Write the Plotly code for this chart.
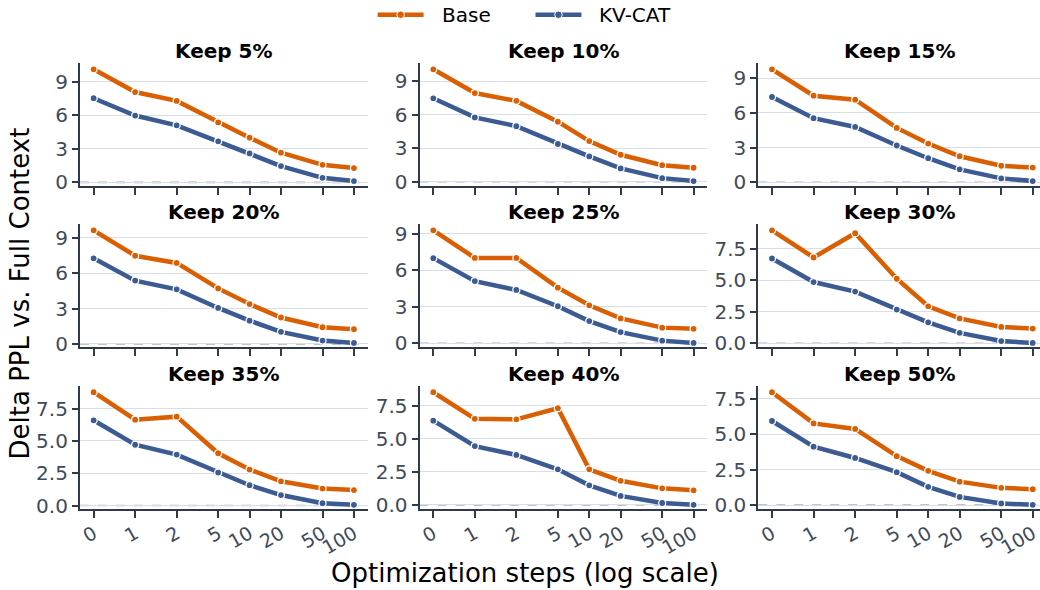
import math
import plotly.graph_objects as go

# ---------------- data ----------------
steps = [0, 1, 2, 5, 10, 20, 50, 100]
step_labels = ["0", "1", "2", "5", "10", "20", "50", "100"]
keep_titles = ["Keep 5%", "Keep 10%", "Keep 15%", "Keep 20%", "Keep 25%",
               "Keep 30%", "Keep 35%", "Keep 40%", "Keep 50%"]
series_names = ["Base", "KV-CAT"]

base_k05 = [10.10, 8.07, 7.28, 5.36, 3.99, 2.65, 1.57, 1.28]
kv_k05 = [7.52, 5.97, 5.10, 3.67, 2.59, 1.46, 0.41, 0.12]
base_k10 = [10.05, 7.93, 7.23, 5.37, 3.63, 2.41, 1.48, 1.25]
kv_k10 = [7.46, 5.75, 4.97, 3.37, 2.26, 1.19, 0.32, 0.06]
base_k15 = [9.76, 7.48, 7.14, 4.70, 3.35, 2.25, 1.43, 1.27]
kv_k15 = [7.37, 5.54, 4.78, 3.18, 2.08, 1.12, 0.34, 0.11]
base_k20 = [9.64, 7.48, 6.87, 4.71, 3.38, 2.24, 1.41, 1.25]
kv_k20 = [7.26, 5.37, 4.63, 3.05, 1.97, 1.02, 0.28, 0.08]
base_k25 = [9.30, 7.03, 7.03, 4.58, 3.13, 2.05, 1.29, 1.19]
kv_k25 = [7.01, 5.12, 4.39, 3.05, 1.83, 0.92, 0.22, 0.03]
base_k30 = [8.98, 6.82, 8.75, 5.13, 2.94, 1.98, 1.30, 1.17]
kv_k30 = [6.74, 4.87, 4.11, 2.68, 1.67, 0.83, 0.18, 0.03]
base_k35 = [8.76, 6.64, 6.87, 4.04, 2.78, 1.87, 1.31, 1.19]
kv_k35 = [6.59, 4.70, 3.94, 2.55, 1.57, 0.81, 0.18, 0.05]
base_k40 = [8.54, 6.53, 6.49, 7.33, 2.70, 1.83, 1.26, 1.11]
kv_k40 = [6.39, 4.46, 3.79, 2.70, 1.49, 0.69, 0.15, 0.01]
base_k50 = [7.97, 5.77, 5.38, 3.46, 2.42, 1.66, 1.22, 1.13]
kv_k50 = [5.94, 4.13, 3.33, 2.33, 1.29, 0.58, 0.12, 0.02]

base_series = [base_k05, base_k10, base_k15, base_k20, base_k25,
               base_k30, base_k35, base_k40, base_k50]
kv_series = [kv_k05, kv_k10, kv_k15, kv_k20, kv_k25,
             kv_k30, kv_k35, kv_k40, kv_k50]

# ---------------- styling ----------------
W, H = 1040, 590
FONT = "DejaVu Sans"
BASE_COLOR = "#d95f02"
KV_COLOR = "#3b5b92"
AXIS_COLOR = "#2f3a4a"
TICK_COLOR = "#3f4a5a"
GRID_COLOR = "#d9dee5"


def step_pos(s):
    """Log-like scale used on the x axis (first steps evenly spaced)."""
    if s <= 2:
        return float(s)
    return 2.0 + math.log10(s / 2.0) / math.log10(2.5)


xpos = [step_pos(s) for s in steps]

col_px = [(79, 367), (419, 707), (758, 1040)]
row_px = [(62, 187), (226, 352), (391, 517)]
x_ranges = [[-0.33, 6.6], [-0.33, 6.6], [-0.33, 6.445]]

fig = go.Figure()
annotations = []
shapes = []

for i in range(9):
    r, c = divmod(i, 3)
    k = i + 1
    xa = "x" if k == 1 else f"x{k}"
    ya = "y" if k == 1 else f"y{k}"
    xkey = "xaxis" if k == 1 else f"xaxis{k}"
    ykey = "yaxis" if k == 1 else f"yaxis{k}"

    b = base_series[i]
    v = kv_series[i]
    for name, vals, col in ((series_names[0], b, BASE_COLOR),
                            (series_names[1], v, KV_COLOR)):
        fig.add_trace(go.Scatter(
            x=xpos, y=vals, name=name, mode="lines+markers",
            line=dict(color=col, width=4.5),
            marker=dict(color=col, size=7, line=dict(color="white", width=1.2)),
            xaxis=xa, yaxis=ya, showlegend=False,
        ))

    allv = b + v
    lo_d, hi_d = min(allv), max(allv)
    span = hi_d - lo_d
    yr = [lo_d - 0.04 * span, hi_d + 0.058 * span]

    x0, x1 = col_px[c]
    y0, y1 = row_px[r]
    xdom = [x0 / W, x1 / W]
    ydom = [1 - y1 / H, 1 - y0 / H]

    fig.layout[xkey] = dict(
        domain=xdom, anchor=ya, range=x_ranges[c],
        tickvals=xpos, ticktext=step_labels if r == 2 else [""] * len(xpos),
        showticklabels=(r == 2), tickangle=-30, ticklabelstandoff=-3,
        ticks="outside", ticklen=7, tickwidth=1.5, tickcolor=AXIS_COLOR,
        showline=True, linecolor=AXIS_COLOR, linewidth=2,
        showgrid=False, zeroline=False,
        tickfont=dict(family=FONT, size=19, color=TICK_COLOR),
    )
    if i < 5:
        ytick = dict(tickvals=[0, 3, 6, 9], ticktext=["0", "3", "6", "9"])
    else:
        ytick = dict(tickvals=[0, 2.5, 5, 7.5], ticktext=["0.0", "2.5", "5.0", "7.5"])
    fig.layout[ykey] = dict(
        domain=ydom, anchor=xa, range=yr, **ytick,
        ticks="outside", ticklen=6, tickwidth=1.5, tickcolor=AXIS_COLOR,
        showline=True, linecolor=AXIS_COLOR, linewidth=2,
        showgrid=True, gridcolor=GRID_COLOR, gridwidth=1.2, zeroline=False,
        tickfont=dict(family=FONT, size=20, color=TICK_COLOR),
    )

    shapes.append(dict(
        type="line", xref=f"{xa} domain", yref=ya, x0=0, x1=1, y0=0, y1=0,
        line=dict(color="#aab0bb", width=1.6, dash="dash"), layer="below",
    ))

    annotations.append(dict(
        text=f"<b>{keep_titles[i]}</b>", xref="paper", yref="paper",
        x=(xdom[0] + xdom[1]) / 2, y=ydom[1], xanchor="center", yanchor="middle",
        yshift=12, showarrow=False,
        font=dict(family=FONT, size=20, color="black"),
    ))

# axis titles
annotations.append(dict(
    text="Optimization steps (log scale)", xref="paper", yref="paper",
    x=525 / W, y=1 - 582 / H, xanchor="center", yanchor="middle",
    showarrow=False, font=dict(family=FONT, size=26, color="black"),
))
annotations.append(dict(
    text="Delta PPL vs. Full Context", xref="paper", yref="paper",
    x=19 / W, y=1 - 297 / H, xanchor="center", yanchor="middle", textangle=-90,
    showarrow=False, font=dict(family=FONT, size=26, color="black"),
))

# custom legend (line sample with a dot, then label)
legend_items = [(series_names[0], BASE_COLOR, 377), (series_names[1], KV_COLOR, 535)]
LEG_Y = 13
for name, col, lx in legend_items:
    shapes.append(dict(
        type="line", xref="paper", yref="paper",
        x0=lx / W, x1=(lx + 46) / W, y0=1 - LEG_Y / H, y1=1 - LEG_Y / H,
        line=dict(color=col, width=4.5),
    ))
    cx = lx + 23
    shapes.append(dict(
        type="circle", xref="paper", yref="paper",
        x0=(cx - 3.8) / W, x1=(cx + 3.8) / W,
        y0=1 - (LEG_Y + 3.8) / H, y1=1 - (LEG_Y - 3.8) / H,
        fillcolor=col, line=dict(color="white", width=1),
    ))
    annotations.append(dict(
        text=name, xref="paper", yref="paper",
        x=(lx + 62) / W, y=1 - LEG_Y / H, xanchor="left", yanchor="middle",
        showarrow=False, font=dict(family=FONT, size=20, color="black"),
    ))

fig.update_layout(
    width=W, height=H,
    margin=dict(l=0, r=0, t=0, b=0),
    plot_bgcolor="white", paper_bgcolor="white",
    font=dict(family=FONT),
    annotations=annotations, shapes=shapes,
    showlegend=False,
)

fig.write_html("out.html")
